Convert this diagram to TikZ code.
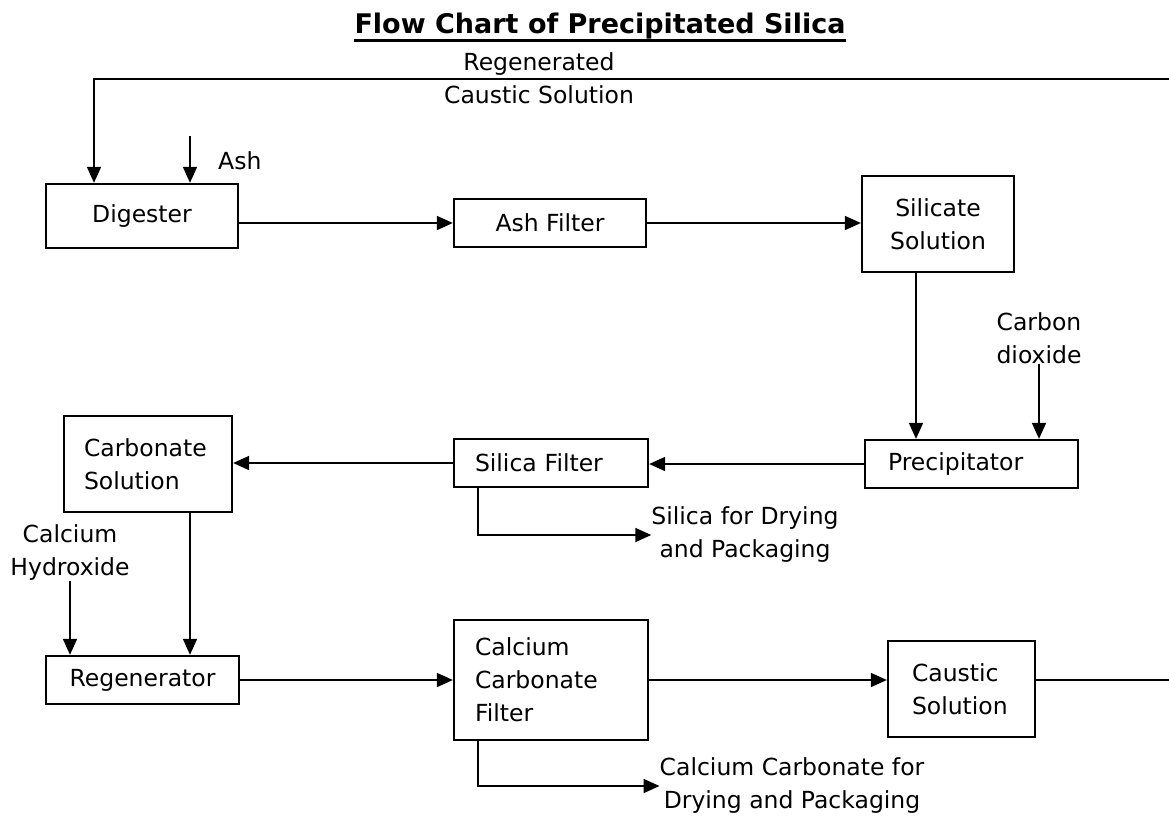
\documentclass[tikz,border=0pt]{standalone}
\usepackage{fontspec}
\setmainfont{DejaVu Sans}
\usetikzlibrary{
  arrows.meta,
  positioning
}
\newcommand{\flowfont}{\fontsize{23.5}{33}\selectfont}
\newcommand{\flowtitlefont}{\fontsize{27}{32}\bfseries\selectfont}
\tikzset{
  procBox/.style={
    draw,
    line width=2.3pt,
    inner sep=0pt,
    align=center,
    font=\flowfont
  },
  flowLabel/.style={
    inner sep=0pt,
    align=center,
    font=\flowfont
  },
  flowArrow/.style={
    -{Triangle[length=16pt,width=14pt]},
    line width=1.8pt
  },
  flowLine/.style={
    line width=1.8pt
  }
}

\begin{document}
\begin{tikzpicture}[x=1pt,y=-1pt]
  \fill[white] (0,0) rectangle (1169,817);
  \useasboundingbox (0,0) rectangle (1169,817);

  % title
  \node[font=\flowtitlefont, inner sep=0pt, anchor=base] (title) at (600,33)
    {Flow Chart of Precipitated Silica};
  \draw[line width=3pt] ([yshift=-7pt]title.base west) -- ([yshift=-7pt]title.base east);

  % process boxes
  \node[procBox, minimum width=192pt, minimum height=64pt]
    (digester) at (142,216) {Digester};
  \node[procBox, minimum width=192pt, minimum height=48pt]
    (ashFilter) at (550,223) {Ash Filter};
  \node[procBox, minimum width=152pt, minimum height=96pt]
    (silicate) at (938,224) {Silicate\\Solution};
  \node[procBox, text width=167pt, inner xsep=23pt, align=left, minimum height=48pt]
    (precip) at (971.5,464) {Precipitator};
  \node[procBox, text width=152pt, inner xsep=21pt, align=left, minimum height=48pt]
    (silicaFilter) at (551,463) {Silica Filter};
  \node[procBox, text width=128pt, inner xsep=20pt, align=left, minimum height=96pt]
    (carbonate) at (148,464) {Carbonate\\Solution};
  \node[procBox, minimum width=193pt, minimum height=48pt]
    (regen) at (142.5,680) {Regenerator};
  \node[procBox, text width=152pt, inner xsep=21pt, align=left, minimum height=120pt]
    (caco3Filter) at (551,680) {Calcium\\Carbonate\\Filter};
  \node[procBox, text width=99pt, inner xsep=24pt, align=left, minimum height=96pt]
    (caustic) at (961.5,689) {Caustic\\Solution};

  % stream labels
  \node[flowLabel] (regenLabel) at (539,78) {Regenerated\\Caustic Solution};
  \node[flowLabel, anchor=west] (ashLabel) at (218,161) {Ash};
  \node[flowLabel] (co2Label) at (1039,338) {Carbon\\dioxide};
  \node[flowLabel] (silicaOut) at (745,535) {Silica for Drying\\and Packaging};
  \node[flowLabel] (caohLabel) at (70,553) {Calcium\\Hydroxide};
  \node[flowLabel] (caco3Out) at (792,786) {Calcium Carbonate for\\Drying and Packaging};

  \coordinate (loopEnd) at (1169,79);
  \coordinate (causticEnd) at (1169,680);
  \coordinate (ashIn) at (190,136);

  % connectors
  \draw[flowArrow] (loopEnd) -| ([xshift=-48pt]digester.north);
  \draw[flowArrow] (ashIn) -- (ashIn |- digester.north);
  \draw[flowArrow] (digester.east |- ashFilter.west) -- (ashFilter.west);
  \draw[flowArrow] (ashFilter.east) -- (silicate.west |- ashFilter.east);
  \draw[flowArrow] ([xshift=-22pt]silicate.south)
    -- ([xshift=-22pt]silicate.south |- precip.north);
  \draw[flowArrow] (co2Label.south) -- (co2Label.south |- precip.north);
  \draw[flowArrow] (precip.west) -- (silicaFilter.east |- precip.west);
  \draw[flowArrow] (silicaFilter.west) -- (carbonate.east |- silicaFilter.west);
  \draw[flowArrow] ([xshift=25pt]silicaFilter.south west) |- (silicaOut.west);
  \draw[flowArrow] ([xshift=42pt]carbonate.south)
    -- ([xshift=42pt]carbonate.south |- regen.north);
  \draw[flowArrow] (caohLabel.south) -- (caohLabel.south |- regen.north);
  \draw[flowArrow] (regen.east) -- (caco3Filter.west |- regen.east);
  \draw[flowArrow] (caco3Filter.east) -- (caustic.west |- caco3Filter.east);
  \draw[flowArrow] ([xshift=25pt]caco3Filter.south west) |- (caco3Out.west);
  \draw[flowLine] (caustic.east |- caco3Filter.east) -- (causticEnd);
\end{tikzpicture}
\end{document}
